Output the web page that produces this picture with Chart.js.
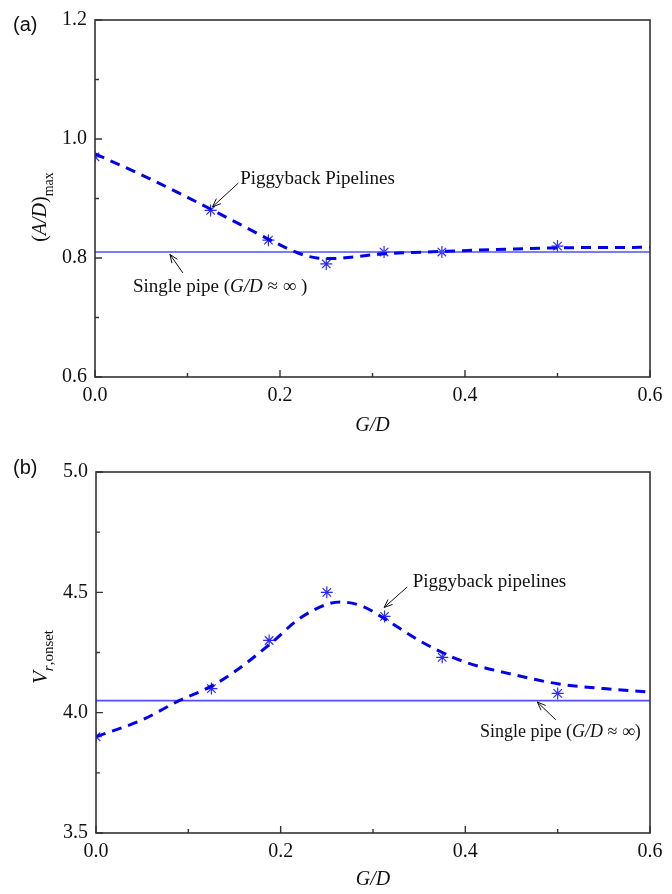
<!DOCTYPE html>
<html><head><meta charset="utf-8">
<script src="https://cdn.jsdelivr.net/npm/chart.js@4/dist/chart.umd.min.js"></script>
<style>
html,body{margin:0;padding:0;background:#fff;}
#wrap{position:relative;width:672px;height:894px;overflow:hidden;}
.c{position:absolute;left:0;width:672px;}
</style></head><body>
<div id="wrap">
<div class="c" style="top:0;height:440px"><canvas id="ca"></canvas></div>
<div class="c" style="top:440px;height:454px"><canvas id="cb"></canvas></div>
</div>
<script>
// ---- data ----
const gapRatio = [0, 0.125, 0.1875, 0.25, 0.3125, 0.375, 0.5];
const ampMeasured = [0.97, 0.88, 0.83, 0.79, 0.81, 0.81, 0.82];
const ampFitX = [0, 0.05, 0.10, 0.15, 0.20, 0.22, 0.24, 0.26, 0.28, 0.3125, 0.375, 0.45, 0.5, 0.6];
const ampFitY = [0.975, 0.940, 0.902, 0.862, 0.822, 0.808, 0.800, 0.799, 0.802, 0.807, 0.811, 0.815, 0.817, 0.818];
const ampSingle = 0.81;
const vrMeasured = [3.90, 4.10, 4.30, 4.50, 4.40, 4.23, 4.08];
const vrFitX = [0, 0.05, 0.09, 0.125, 0.15, 0.19, 0.22, 0.25, 0.265, 0.29, 0.3125, 0.35, 0.375, 0.40, 0.45, 0.5, 0.55, 0.6];
const vrFitY = [3.90, 3.97, 4.05, 4.11, 4.17, 4.29, 4.39, 4.45, 4.46, 4.44, 4.39, 4.30, 4.25, 4.21, 4.16, 4.12, 4.10, 4.085];
const vrSingle = 4.05;
const xTicks = [0, 0.2, 0.4, 0.6];
const xMinor = [0.1, 0.3, 0.5];
const ampTicks = [0.6, 0.8, 1.0, 1.2];
const ampMinor = [0.7, 0.9, 1.1];
const vrTicks = [3.5, 4.0, 4.5, 5.0];
const vrMinor = [3.75, 4.25, 4.75];

const SERIF = '"Liberation Serif", "Times New Roman", serif';
const SANS = '"Liberation Sans", Arial, sans-serif';
const FRAME = '#333333';

function pts(xs, ys){ return xs.map((x,i)=>({x:x, y:ys[i]})); }

function drawRich(ctx, parts, x, y, align){
  // parts: [{t, font, dy}]
  let w = 0;
  parts.forEach(p=>{ ctx.font = p.font; p.w = ctx.measureText(p.t).width; w += p.w; });
  let cx = align === 'center' ? x - w/2 : (align === 'right' ? x - w : x);
  parts.forEach(p=>{ ctx.font = p.font; ctx.fillText(p.t, cx, y + (p.dy||0)); cx += p.w; });
}

function arrow(ctx, x1, y1, x2, y2){
  ctx.save();
  ctx.strokeStyle = '#111'; ctx.lineWidth = 1;
  ctx.beginPath(); ctx.moveTo(x1,y1); ctx.lineTo(x2,y2); ctx.stroke();
  const ang = Math.atan2(y2-y1, x2-x1), L = 9, s = 0.38;
  ctx.beginPath();
  ctx.moveTo(x2 - L*Math.cos(ang - s), y2 - L*Math.sin(ang - s));
  ctx.lineTo(x2, y2);
  ctx.lineTo(x2 - L*Math.cos(ang + s), y2 - L*Math.sin(ang + s));
  ctx.stroke();
  ctx.restore();
}

function decor(opt){
  return {
    id: 'decor',
    afterDraw(chart){
      const {ctx, chartArea: a, scales: {x, y}} = chart;
      ctx.save();
      // frame
      ctx.strokeStyle = FRAME; ctx.lineWidth = 1.6;
      ctx.strokeRect(a.left, a.top, a.right - a.left, a.bottom - a.top);
      // inward ticks
      ctx.lineWidth = 1.4;
      ctx.beginPath();
      xTicks.forEach(v=>{ const px = x.getPixelForValue(v); ctx.moveTo(px, a.bottom); ctx.lineTo(px, a.bottom - 7); });
      xMinor.forEach(v=>{ const px = x.getPixelForValue(v); ctx.moveTo(px, a.bottom); ctx.lineTo(px, a.bottom - 4); });
      opt.yTicks.forEach(v=>{ const py = y.getPixelForValue(v); ctx.moveTo(a.left, py); ctx.lineTo(a.left + 7, py); });
      opt.yMinor.forEach(v=>{ const py = y.getPixelForValue(v); ctx.moveTo(a.left, py); ctx.lineTo(a.left + 4, py); });
      ctx.stroke();
      ctx.fillStyle = '#111';
      ctx.textBaseline = 'middle';
      // panel label
      ctx.font = '20px ' + SANS; ctx.textAlign = 'left';
      ctx.fillText(opt.panel, 13, opt.panelY);
      // x title
      drawRich(ctx, [{t:'G/D', font:'italic 20px ' + SERIF}], (a.left + a.right)/2, opt.xTitleY, 'center');
      // y title rotated
      ctx.save();
      ctx.translate(opt.yTitleX, opt.yTitleY);
      ctx.rotate(-Math.PI/2);
      drawRich(ctx, opt.yTitle, 0, 0, 'center');
      ctx.restore();
      // annotations
      opt.notes.forEach(n=>{
        drawRich(ctx, n.parts, x.getPixelForValue(n.at[0]), y.getPixelForValue(n.at[1]), n.align || 'left');
        arrow(ctx, x.getPixelForValue(n.from[0]), y.getPixelForValue(n.from[1]),
                   x.getPixelForValue(n.to[0]), y.getPixelForValue(n.to[1]));
      });
      ctx.restore();
    }
  };
}

function makeChart(id, o){
  const reg = '19px ' + SERIF, ita = 'italic 19px ' + SERIF;
  return new Chart(document.getElementById(id), {
    type: 'scatter',
    data: {
      datasets: [
        { data: pts(o.fitX, o.fitY), showLine: true, pointRadius: 0, borderColor: '#0000f0',
          borderWidth: 3, borderDash: [10, 7], tension: 0.4, cubicInterpolationMode: 'monotone', fill: false },
        { data: [{x: 0, y: o.single}, {x: 0.6, y: o.single}], showLine: true, pointRadius: 0,
          borderColor: '#4f4fff', borderWidth: 1.6, fill: false },
        { data: pts(gapRatio, o.measured), showLine: false, pointStyle: 'star', pointRadius: 6,
          pointBorderColor: '#2b2bff', pointBorderWidth: 1.2, pointBackgroundColor: '#2b2bff' }
      ]
    },
    options: {
      responsive: true, maintainAspectRatio: false, animation: false, devicePixelRatio: 1,
      layout: { padding: { top: o.padTop, right: 22, left: 0, bottom: 0 } },
      plugins: { legend: { display: false }, tooltip: { enabled: false } },
      scales: {
        x: {
          type: 'linear', min: 0, max: 0.6,
          afterBuildTicks: s => { s.ticks = xTicks.map(v => ({value: v})); },
          afterFit: s => { s.height = o.xH; },
          ticks: { callback: v => v.toFixed(1), font: { family: SERIF, size: 20 }, color: '#111', padding: 7, maxRotation: 0 },
          grid: { display: false, drawTicks: false }, border: { display: false }
        },
        y: {
          type: 'linear', min: o.yTicks[0], max: o.yTicks[o.yTicks.length - 1],
          afterBuildTicks: s => { s.ticks = o.yTicks.map(v => ({value: v})); },
          afterFit: s => { s.width = o.yW; },
          ticks: { callback: v => v.toFixed(1), font: { family: SERIF, size: 20 }, color: '#111', padding: 8 },
          grid: { display: false, drawTicks: false }, border: { display: false }
        }
      }
    },
    plugins: [decor(o)]
  });
}

makeChart('ca', {
  fitX: ampFitX, fitY: ampFitY, single: ampSingle, measured: ampMeasured,
  yTicks: ampTicks, yMinor: ampMinor, padTop: 17, xH: 63, yW: 95,
  panel: '(a)', panelY: 25, xTitleY: 426, yTitleX: 41, yTitleY: 207,
  yTitle: [
    {t: '(', font: '20px ' + SERIF}, {t: 'A/D', font: 'italic 20px ' + SERIF}, {t: ')', font: '20px ' + SERIF},
    {t: 'max', font: '14px ' + SERIF, dy: 8}
  ],
  notes: [
    { parts: [{t: 'Piggyback Pipelines', font: '19px ' + SERIF}], at: [0.157, 0.932], from: [0.155, 0.926], to: [0.127, 0.886] },
    { parts: [{t: 'Single pipe (', font: '19px ' + SERIF}, {t: 'G/D', font: 'italic 19px ' + SERIF}, {t: ' \u2248 \u221E )', font: '19px ' + SERIF}],
      at: [0.041, 0.752], from: [0.095, 0.775], to: [0.081, 0.806] }
  ]
});

makeChart('cb', {
  fitX: vrFitX, fitY: vrFitY, single: vrSingle, measured: vrMeasured,
  yTicks: vrTicks, yMinor: vrMinor, padTop: 32, xH: 61, yW: 96,
  panel: '(b)', panelY: 28, xTitleY: 440, yTitleX: 41, yTitleY: 217,
  yTitle: [
    {t: 'V', font: 'italic 21px ' + SERIF}, {t: 'r', font: 'italic 15px ' + SERIF, dy: 8},
    {t: ',onset', font: '15px ' + SERIF, dy: 8}
  ],
  notes: [
    { parts: [{t: 'Piggyback pipelines', font: '19px ' + SERIF}], at: [0.343, 4.543], from: [0.337, 4.522], to: [0.312, 4.437] },
    { parts: [{t: 'Single pipe (', font: '18px ' + SERIF}, {t: 'G/D', font: 'italic 18px ' + SERIF}, {t: ' \u2248 \u221E)', font: '18px ' + SERIF}],
      at: [0.416, 3.92], from: [0.498, 3.97], to: [0.478, 4.044] }
  ]
});
</script>
</body></html>
